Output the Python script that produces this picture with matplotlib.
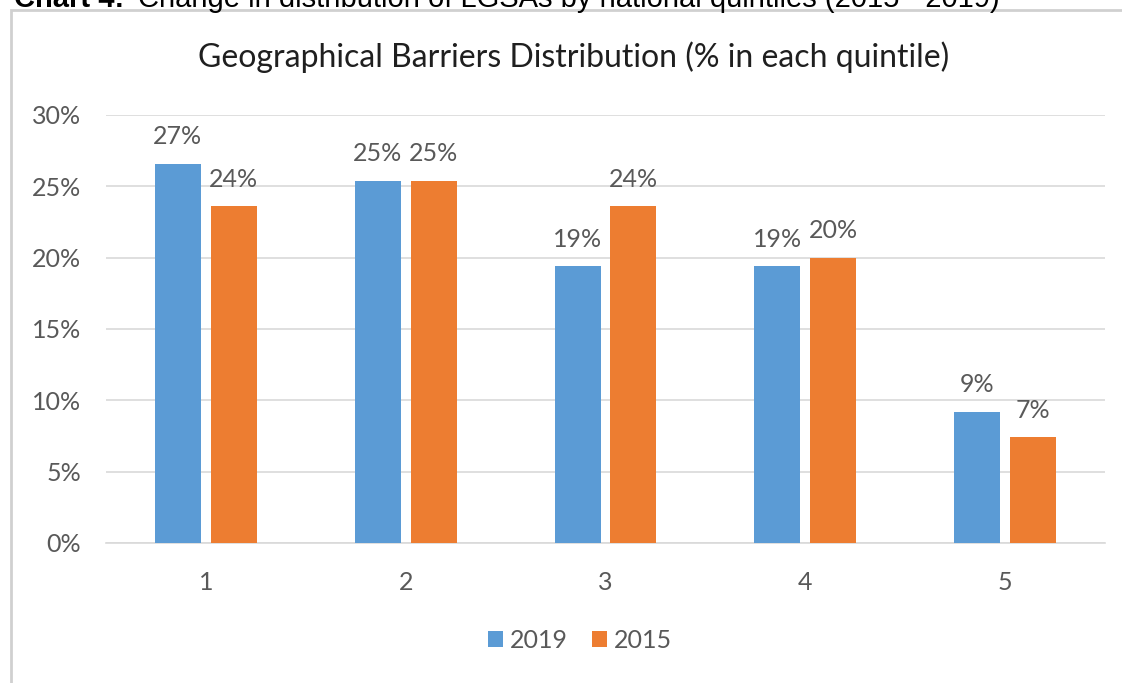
import numpy as np
import matplotlib
import matplotlib.pyplot as plt
from matplotlib.patches import Rectangle

matplotlib.use("Agg")

# data
quintiles = ["1", "2", "3", "4", "5"]
share_2019 = [26.6, 25.4, 19.4, 19.4, 9.2]
share_2015 = [23.6, 25.4, 23.6, 20.0, 7.4]
labels_2019 = ["27%", "25%", "19%", "19%", "9%"]
labels_2015 = ["24%", "25%", "24%", "20%", "7%"]
y_ticks = [0, 5, 10, 15, 20, 25, 30]

blue = "#5B9BD5"
orange = "#ED7D31"
text_grey = "#595959"
grid_grey = "#D9D9D9"

plt.rcParams["font.family"] = ["Lato", "DejaVu Sans"]

fig = plt.figure(figsize=(11.22, 6.83), dpi=100)
W, H = 1122, 683

# outer chart frame (light grey, runs off right and bottom)
fig.patches.append(Rectangle((11 / W, -0.05), 1.1, 1 - 10 / H + 0.05,
                             transform=fig.transFigure, fill=False,
                             edgecolor="#D0D0D0", linewidth=2))

# caption cut off at the top of the image
fig.text(14 / W, 1 - 7 / H, "Chart 4:", fontsize=21, fontweight="bold",
         family="Liberation Sans", va="baseline", ha="left")
fig.text(138 / W, 1 - 7 / H,
         "Change in distribution of LGSAs by national quintiles (2015 - 2019)",
         fontsize=21, family="Liberation Sans", va="baseline", ha="left")

ax = fig.add_axes([106 / W, 1 - 543 / H, 999 / W, 428 / H])
x = np.arange(len(quintiles))
width = 0.23
off = 0.14
b1 = ax.bar(x - off, share_2019, width, color=blue, label="2019", zorder=3)
b2 = ax.bar(x + off, share_2015, width, color=orange, label="2015", zorder=3)

for bars, labs in ((b1, labels_2019), (b2, labels_2015)):
    for rect, lab in zip(bars, labs):
        ax.annotate(lab, (rect.get_x() + rect.get_width() / 2, rect.get_height()),
                    xytext=(0, 11), textcoords="offset points", ha="center",
                    va="bottom", fontsize=18, color=text_grey)

ax.set_xlim(-0.5, 4.5)
ax.set_ylim(0, 30)
ax.set_yticks(y_ticks)
ax.set_yticklabels([f"{v}%" for v in y_ticks])
ax.set_xticks(x)
ax.set_xticklabels(quintiles)
ax.tick_params(axis="both", length=0, labelsize=18, colors=text_grey)
ax.tick_params(axis="y", pad=18)
ax.tick_params(axis="x", pad=20)
ax.yaxis.grid(True, color=grid_grey, linewidth=1.2, zorder=0)
for s in ["top", "right", "left"]:
    ax.spines[s].set_visible(False)
ax.spines["bottom"].set_color(grid_grey)
ax.spines["bottom"].set_linewidth(1.2)

fig.text(574 / W, 1 - 57 / H,
         "Geographical Barriers Distribution (% in each quintile)",
         fontsize=23, color="#1F1F1F", ha="center", va="center")

fig.legend(handles=[b1, b2], labels=["2019", "2015"], loc="center",
           bbox_to_anchor=(580 / W, 1 - 640 / H), ncol=2, frameon=False,
           fontsize=18, labelcolor=text_grey, handlelength=0.6,
           handleheight=0.6, handletextpad=0.25, columnspacing=1.0)

plt.savefig("out.png", dpi=100)
